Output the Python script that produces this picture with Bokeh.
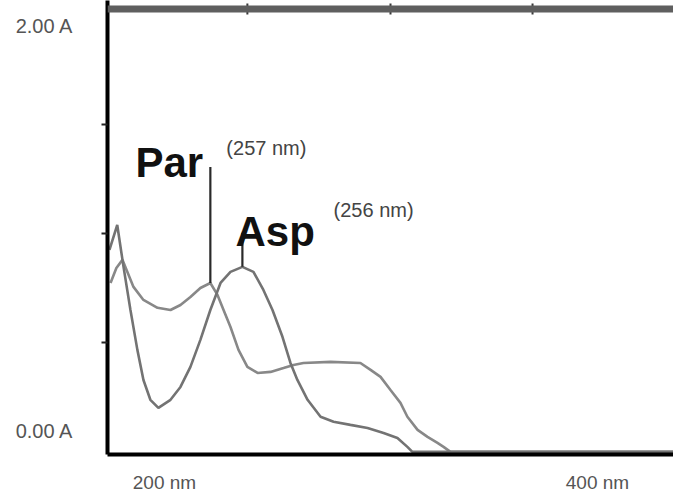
import math
from bokeh.plotting import figure
from bokeh.models import Label, Span, FixedTicker, Range1d
from bokeh.embed import file_html
from bokeh.resources import INLINE

# ---- data (wavelength in nm, absorbance in A) ----
asp_nm = [174.6, 178.2, 181.1, 184.3, 187.5, 190.3, 193.5, 197.2, 202.8, 207.4, 212.0,
          216.6, 221.2, 225.9, 230.5, 236.0, 241.1, 245.7, 249.9, 254.5, 258.2, 261.4,
          266.1, 272.1, 278.1, 285.9, 293.8, 301.2, 307.6, 312.2, 314.5, 435.0]
asp_abs = [0.927, 1.041, 0.849, 0.651, 0.468, 0.330, 0.239, 0.202, 0.239, 0.298, 0.390,
           0.514, 0.651, 0.775, 0.826, 0.849, 0.826, 0.743, 0.651, 0.528, 0.408, 0.330,
           0.239, 0.161, 0.138, 0.124, 0.110, 0.087, 0.064, 0.023, 0.0, 0.0]

par_nm = [175.1, 177.8, 180.6, 185.7, 190.3, 196.8, 202.8, 207.4, 212.0, 216.6, 221.2,
          224.5, 227.3, 230.5, 234.2, 238.3, 243.0, 249.0, 255.0, 259.6, 264.2, 276.7,
          290.5, 295.2, 299.8, 304.4, 309.0, 312.2, 316.9, 321.5, 326.1, 328.9, 332.1, 435.0]
par_abs = [0.775, 0.844, 0.881, 0.757, 0.697, 0.661, 0.651, 0.674, 0.711, 0.752, 0.775,
           0.720, 0.651, 0.573, 0.468, 0.390, 0.362, 0.367, 0.385, 0.399, 0.408, 0.413,
           0.408, 0.376, 0.344, 0.284, 0.225, 0.161, 0.101, 0.069, 0.041, 0.023, 0.0, 0.0]

# peak markers: Par, Asp
peak_names = ["Par", "Asp"]
peak_notes = ["(257 nm)", "(256 nm)"]
peak_nm = [221.2, 236.0]
peak_abs = [0.775, 0.849]
peak_line_top = [1.307, 1.005]

# axis tick labels (y labels sit slightly inside the 0 / 2 marks, as in the print)
x_tick_values = [200, 400]
x_tick_labels = ["200 nm", "400 nm"]
y_label_anchor = [0.098, 1.954]
y_tick_labels = ["0.00 A", "2.00 A"]
y_minor_ticks = [0.5, 1.0, 1.5]
top_ticks_nm = [238.3, 304.4, 370.0]

X_START, X_END = 173.7, 435.1
Y_START, Y_END = -0.012, 2.071
TOP_BORDER = 2.032

p = figure(width=673, height=496, output_backend="svg", toolbar_location=None,
           x_range=Range1d(X_START, X_END), y_range=Range1d(Y_START, Y_END),
           min_border_left=107, min_border_right=0, min_border_top=0, min_border_bottom=42,
           title=None)
p.outline_line_color = None
p.xgrid.visible = False
p.ygrid.visible = False
p.background_fill_color = "white"
p.border_fill_color = "white"

# left axis: thick black line, small outward ticks, two corner labels
ya = p.yaxis[0]
ya.ticker = FixedTicker(ticks=y_label_anchor, minor_ticks=y_minor_ticks)
ya.major_label_overrides = {v: t for v, t in zip(y_label_anchor, y_tick_labels)}
ya.axis_line_color = "black"
ya.axis_line_width = 4
ya.major_tick_line_color = None
ya.major_tick_out = 0
ya.major_tick_in = 0
ya.minor_tick_line_color = "#222222"
ya.minor_tick_line_width = 2
ya.minor_tick_out = 6
ya.minor_tick_in = 0
ya.major_label_standoff = 28
ya.major_label_text_font = "Liberation Sans"
ya.major_label_text_font_size = "20px"
ya.major_label_text_color = "#555555"

xa = p.xaxis[0]
xa.ticker = FixedTicker(ticks=x_tick_values)
xa.major_label_overrides = {v: t for v, t in zip(x_tick_values, x_tick_labels)}
xa.axis_line_color = "black"
xa.axis_line_width = 4
xa.major_tick_line_color = None
xa.major_tick_out = 0
xa.major_tick_in = 0
xa.minor_tick_line_color = None
xa.major_label_standoff = 17
xa.major_label_text_font = "Liberation Sans"
xa.major_label_text_font_size = "19px"
xa.major_label_text_color = "#555555"

# top border and its ticks
p.add_layout(Span(location=TOP_BORDER, dimension="width", line_color="#5f5f5f", line_width=7))
p.scatter(x=top_ticks_nm, y=[TOP_BORDER] * len(top_ticks_nm), marker="dash", angle=math.pi / 2,
          size=11, line_color="#3a3a3a", line_width=2)

# spectra
p.line(par_nm, par_abs, line_color="#888888", line_width=2.6)
p.line(asp_nm, asp_abs, line_color="#737373", line_width=2.6)

# peak marker lines
p.segment(x0=peak_nm, y0=peak_abs, x1=peak_nm, y1=peak_line_top,
          line_color="#2a2a2a", line_width=2.2)

# peak labels
name_pos = [(186.6, 1.326), (232.8, 1.009)]
note_pos = [(228.6, 1.394), (278.1, 1.108)]
for name, (nx, ny) in zip(peak_names, name_pos):
    p.add_layout(Label(x=nx, y=ny, text=name, text_font="Liberation Sans",
                       text_font_style="bold", text_font_size="42px", text_color="#111111",
                       text_baseline="alphabetic", text_align="left"))
for note, (tx, ty) in zip(peak_notes, note_pos):
    p.add_layout(Label(x=tx, y=ty, text=note, text_font="Liberation Sans",
                       text_font_size="20px", text_color="#444444",
                       text_baseline="middle", text_align="left"))

open("out.html", "w").write(file_html(p, INLINE))
